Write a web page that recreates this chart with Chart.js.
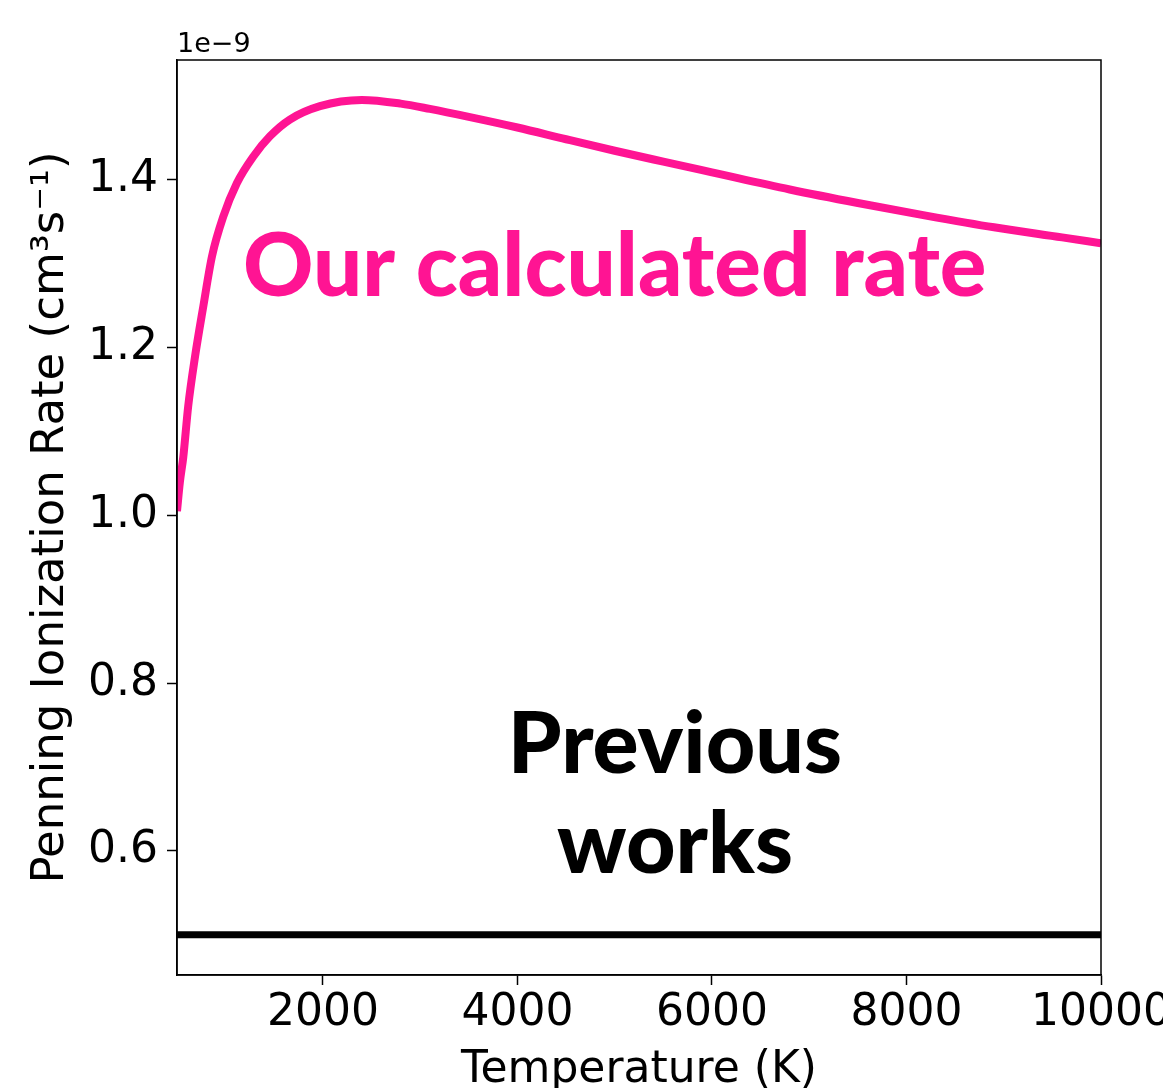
<!DOCTYPE html>
<html>
<head>
<meta charset="utf-8">
<script src="https://cdn.jsdelivr.net/npm/chart.js@4.4.0/dist/chart.umd.min.js"></script>
<style>
  html, body { margin: 0; padding: 0; background: #fff; overflow: hidden; }
  #wrap { width: 1163px; height: 1088px; }
</style>
</head>
<body>
<div id="wrap"><canvas id="rateChart"></canvas></div>
<script>
// temperature grid (K) and rate in units of 1e-9 cm^3 s^-1
const temps = [500, 530, 565, 615, 685, 770, 860, 975, 1115, 1285, 1455, 1660, 1970, 2400, 2800, 3100, 3500, 4000, 4500, 5000, 5500, 6000, 6800, 7500, 8200, 8900, 9600, 10000];
const ourRate = [1.005, 1.040, 1.070, 1.130, 1.189, 1.249, 1.309, 1.356, 1.396, 1.428, 1.452, 1.472, 1.488, 1.4954, 1.491, 1.4847, 1.4752, 1.4625, 1.4485, 1.4348, 1.4218, 1.409, 1.3886, 1.3725, 1.3575, 1.3435, 1.3315, 1.3245];

// older literature value, flat over the range
const prevTemps = [500, 10000];
const prevRate = [0.5, 0.5];

const xTicks = [2000, 4000, 6000, 8000, 10000];
const yTicks = [0.6, 0.8, 1.0, 1.2, 1.4];

// text labels placed in data coordinates (baseline positions)
const notes = [
  { lines: ['Our calculated rate'], x: 5000, y: [1.262], size: 87, color: '#ff1493' },
  { lines: ['Previous', 'works'], x: 5620, y: [0.693, 0.574], size: 86, color: '#000' }
];

const PINK = '#ff1493';
const tickFont = { family: 'DejaVu Sans', size: 44 };

// box around the plot, offset exponent and the text labels
const decor = {
  id: 'decor',
  afterDatasetsDraw(chart) {
    const { ctx, chartArea: a, scales } = chart;
    ctx.save();
    ctx.strokeStyle = '#000';
    ctx.lineWidth = 1.5;
    ctx.strokeRect(a.left, a.top, a.right - a.left, a.bottom - a.top);

    ctx.fillStyle = '#000';
    ctx.font = '27px "DejaVu Sans"';
    ctx.textAlign = 'left';
    ctx.textBaseline = 'alphabetic';
    ctx.fillText('1e\u22129', a.left, a.top - 8);

    ctx.textAlign = 'center';
    notes.forEach(n => {
      ctx.fillStyle = n.color;
      ctx.font = '900 ' + n.size + 'px Lato';
      n.lines.forEach((t, i) => {
        ctx.fillText(t, scales.x.getPixelForValue(n.x), scales.y.getPixelForValue(n.y[i]));
      });
    });
    ctx.restore();
  }
};

new Chart(document.getElementById('rateChart'), {
  type: 'line',
  data: {
    datasets: [
      {
        label: 'Our calculated rate',
        data: temps.map((t, i) => ({ x: t, y: ourRate[i] })),
        borderColor: PINK,
        borderWidth: 8,
        pointRadius: 0,
        cubicInterpolationMode: 'monotone',
        clip: 0
      },
      {
        label: 'Previous works',
        data: prevTemps.map((t, i) => ({ x: t, y: prevRate[i] })),
        borderColor: '#000',
        borderWidth: 7,
        pointRadius: 0,
        clip: 0
      }
    ]
  },
  options: {
    responsive: true,
    maintainAspectRatio: false,
    animation: false,
    layout: { padding: { left: 0, right: 62, top: 60, bottom: 0 } },
    plugins: {
      legend: { display: false },
      tooltip: { enabled: false }
    },
    scales: {
      x: {
        type: 'linear',
        min: 500,
        max: 10000,
        afterBuildTicks: s => { s.ticks = xTicks.map(v => ({ value: v })); },
        afterFit: s => { s.height = 113; s.paddingLeft = 0; s.paddingRight = 0; },
        border: { color: '#000', width: 1.5 },
        grid: { drawOnChartArea: false, tickLength: 10, tickColor: '#000', tickWidth: 1.5 },
        ticks: { color: '#000', font: tickFont, padding: 2, maxRotation: 0, autoSkip: false, callback: v => String(v) },
        title: { display: true, text: 'Temperature (K)', color: '#000', font: tickFont, padding: { top: 0, bottom: -9 } }
      },
      y: {
        type: 'linear',
        min: 0.452,
        max: 1.543,
        afterBuildTicks: s => { s.ticks = yTicks.map(v => ({ value: v })); },
        afterFit: s => { s.width = 177; s.paddingTop = 0; s.paddingBottom = 0; },
        border: { color: '#000', width: 1.5 },
        grid: { drawOnChartArea: false, tickLength: 10, tickColor: '#000', tickWidth: 1.5 },
        ticks: { color: '#000', font: tickFont, padding: 9, autoSkip: false, callback: v => v.toFixed(1) },
        title: { display: true, text: 'Penning Ionization Rate (cm\u00b3s\u207b\u00b9)', color: '#000', font: { family: 'DejaVu Sans', size: 45 }, padding: { top: 24, bottom: 0 } }
      }
    }
  },
  plugins: [decor]
});
</script>
</body>
</html>
